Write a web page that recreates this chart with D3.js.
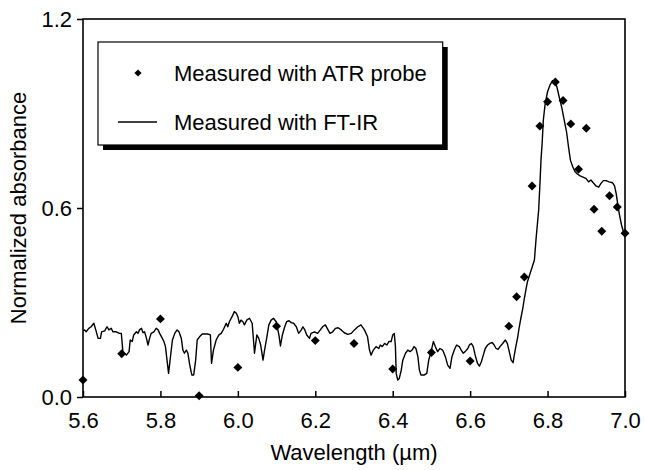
<!DOCTYPE html>
<html>
<head>
<meta charset="utf-8">
<script src="https://cdn.jsdelivr.net/npm/d3@7"></script>
<style>
  body { margin: 0; background: #fff; }
  svg text { font-family: 'Liberation Sans', Arial, sans-serif; fill: #000; }
</style>
</head>
<body>
<div id="chart"></div>
<script>
const width = 645;
const height = 470;
const margin = { top: 19, right: 20, bottom: 73, left: 83 };
const fontSize = 22;

// x axis ticks (wavelength, um) and y axis ticks (normalized absorbance)
const waveTicks = [5.6, 5.8, 6.0, 6.2, 6.4, 6.6, 6.8, 7.0];
const absTicks = [0.0, 0.6, 1.2];

// ATR probe measurements
const atrWave = [5.6, 5.7, 5.8, 5.9, 6.0, 6.1, 6.2, 6.3, 6.4, 6.5, 6.6,
  6.70, 6.72, 6.74, 6.76, 6.78, 6.80, 6.82, 6.84, 6.86, 6.88, 6.90, 6.92, 6.94, 6.96, 6.98, 7.00];
const atrAbs = [0.054, 0.137, 0.248, 0.004, 0.094, 0.225, 0.179, 0.170, 0.089, 0.141, 0.114,
  0.225, 0.318, 0.381, 0.670, 0.860, 0.937, 1.000, 0.941, 0.867, 0.723, 0.853, 0.596, 0.526, 0.639, 0.603, 0.520];

// FT-IR spectrum
const ftirWave = [
  5.600, 5.604, 5.608, 5.615, 5.621, 5.628, 5.633, 5.639, 5.645, 5.648, 5.656, 5.662, 5.667, 5.673, 5.677,
  5.686, 5.694, 5.699, 5.703, 5.712, 5.719, 5.722, 5.727, 5.731, 5.738, 5.742, 5.746, 5.751, 5.755, 5.759,
  5.763, 5.768, 5.772, 5.776, 5.783, 5.789, 5.794, 5.798, 5.805, 5.809, 5.813, 5.817, 5.821, 5.826, 5.831,
  5.837, 5.843, 5.848, 5.854, 5.858, 5.862, 5.867, 5.871, 5.875, 5.881, 5.886, 5.891, 5.895, 5.901, 5.908,
  5.922, 5.929, 5.932, 5.937, 5.944, 5.951, 5.957, 5.963, 5.970, 5.974, 5.978, 5.985, 5.991, 5.996, 6.000,
  6.004, 6.008, 6.013, 6.017, 6.023, 6.030, 6.037, 6.043, 6.049, 6.054, 6.059, 6.065, 6.069, 6.075, 6.080,
  6.086, 6.092, 6.099, 6.106, 6.110, 6.115, 6.121, 6.126, 6.132, 6.138, 6.144, 6.151, 6.157, 6.164, 6.168,
  6.173, 6.178, 6.185, 6.189, 6.198, 6.206, 6.213, 6.219, 6.226, 6.233, 6.238, 6.245, 6.252, 6.259, 6.267,
  6.275, 6.284, 6.293, 6.301, 6.310, 6.318, 6.327, 6.335, 6.340, 6.344, 6.350, 6.357, 6.364, 6.368, 6.373,
  6.379, 6.385, 6.390, 6.396, 6.400, 6.404, 6.407, 6.409, 6.413, 6.417, 6.422, 6.426, 6.433, 6.439, 6.445,
  6.450, 6.455, 6.460, 6.465, 6.469, 6.473, 6.482, 6.488, 6.493, 6.499, 6.505, 6.510, 6.516, 6.522, 6.529,
  6.536, 6.542, 6.548, 6.553, 6.559, 6.565, 6.572, 6.577, 6.582, 6.587, 6.594, 6.598, 6.603, 6.608, 6.613,
  6.619, 6.624, 6.629, 6.634, 6.639, 6.645, 6.651, 6.657, 6.662, 6.667, 6.672, 6.677, 6.684, 6.691, 6.696,
  6.701, 6.706, 6.711, 6.714, 6.718, 6.723, 6.727, 6.731, 6.736, 6.740, 6.744, 6.748, 6.766, 6.770, 6.777,
  6.780, 6.783, 6.786, 6.789, 6.794, 6.800, 6.806, 6.813, 6.819, 6.824, 6.830, 6.837, 6.843, 6.849, 6.854,
  6.859, 6.865, 6.871, 6.877, 6.884, 6.890, 6.899, 6.906, 6.912, 6.918, 6.925, 6.932, 6.938, 6.944, 6.951,
  6.959, 6.968, 6.973, 6.977, 6.981, 6.985, 6.991, 6.997];
const ftirAbs = [
  0.210, 0.213, 0.207, 0.218, 0.223, 0.234, 0.213, 0.186, 0.186, 0.207, 0.210, 0.223, 0.213, 0.218, 0.207,
  0.207, 0.202, 0.202, 0.144, 0.133, 0.144, 0.181, 0.176, 0.197, 0.207, 0.202, 0.213, 0.218, 0.204, 0.207,
  0.191, 0.165, 0.186, 0.202, 0.207, 0.218, 0.213, 0.202, 0.186, 0.176, 0.160, 0.117, 0.075, 0.128, 0.181,
  0.202, 0.213, 0.207, 0.186, 0.149, 0.139, 0.149, 0.139, 0.107, 0.070, 0.070, 0.117, 0.181, 0.191, 0.200,
  0.200, 0.197, 0.107, 0.149, 0.181, 0.197, 0.202, 0.215, 0.234, 0.223, 0.239, 0.255, 0.271, 0.266, 0.255,
  0.234, 0.244, 0.239, 0.229, 0.244, 0.250, 0.234, 0.139, 0.197, 0.186, 0.165, 0.117, 0.149, 0.191, 0.229,
  0.244, 0.250, 0.239, 0.197, 0.162, 0.197, 0.223, 0.239, 0.242, 0.236, 0.234, 0.223, 0.202, 0.213, 0.223,
  0.213, 0.197, 0.186, 0.202, 0.207, 0.202, 0.213, 0.223, 0.229, 0.213, 0.202, 0.207, 0.218, 0.220, 0.213,
  0.204, 0.199, 0.202, 0.213, 0.223, 0.229, 0.213, 0.191, 0.149, 0.133, 0.149, 0.160, 0.154, 0.165, 0.160,
  0.170, 0.165, 0.176, 0.176, 0.197, 0.202, 0.160, 0.075, 0.054, 0.059, 0.085, 0.117, 0.139, 0.149, 0.144,
  0.149, 0.160, 0.154, 0.128, 0.085, 0.070, 0.070, 0.075, 0.117, 0.144, 0.176, 0.160, 0.144, 0.154, 0.149,
  0.128, 0.101, 0.091, 0.128, 0.149, 0.165, 0.160, 0.149, 0.139, 0.144, 0.154, 0.165, 0.170, 0.160, 0.133,
  0.107, 0.098, 0.112, 0.133, 0.154, 0.165, 0.170, 0.173, 0.165, 0.154, 0.151, 0.160, 0.170, 0.181, 0.170,
  0.144, 0.117, 0.109, 0.133, 0.160, 0.191, 0.223, 0.250, 0.281, 0.313, 0.340, 0.366, 0.435, 0.498, 0.594,
  0.668, 0.752, 0.806, 0.879, 0.933, 0.969, 0.990, 1.004, 1.001, 0.985, 0.953, 0.917, 0.879, 0.842, 0.795,
  0.752, 0.731, 0.715, 0.708, 0.702, 0.699, 0.694, 0.683, 0.689, 0.680, 0.670, 0.666, 0.678, 0.687, 0.687,
  0.683, 0.680, 0.670, 0.647, 0.615, 0.583, 0.546, 0.520];

const legendLabels = ['Measured with ATR probe', 'Measured with FT-IR'];

const svg = d3.select('#chart')
  .append('svg')
  .attr('width', width)
  .attr('height', height);

const x = d3.scaleLinear().domain([5.6, 7.0]).range([margin.left, width - margin.right]);
const y = d3.scaleLinear().domain([0, 1.2]).range([height - margin.bottom, margin.top]);

const xAxis = d3.axisBottom(x)
  .tickValues(waveTicks)
  .tickFormat(d3.format('.1f'))
  .tickSizeInner(-6)
  .tickSizeOuter(0)
  .tickPadding(15);

const yAxis = d3.axisLeft(y)
  .tickValues(absTicks)
  .tickFormat(d3.format('.1f'))
  .tickSizeInner(6)
  .tickSizeOuter(0)
  .tickPadding(5);

const gx = svg.append('g')
  .attr('transform', `translate(0, ${height - margin.bottom})`)
  .call(xAxis);

const gy = svg.append('g')
  .attr('transform', `translate(${margin.left}, 0)`)
  .call(yAxis);

[gx, gy].forEach((g) => {
  g.select('.domain').remove();
  g.selectAll('line').attr('stroke', '#000').attr('stroke-width', 1.5);
  g.selectAll('text').style('font-size', `${fontSize}px`).attr('fill', '#000');
});

// frame around the plot
svg.append('rect')
  .attr('x', x(5.6))
  .attr('y', y(1.2))
  .attr('width', x(7.0) - x(5.6))
  .attr('height', y(0) - y(1.2))
  .attr('fill', 'none')
  .attr('stroke', '#000')
  .attr('stroke-width', 1.6);

// axis titles
svg.append('text')
  .attr('x', (x(5.6) + x(7.0)) / 2)
  .attr('y', 460)
  .attr('text-anchor', 'middle')
  .style('font-size', `${fontSize}px`)
  .text('Wavelength (\u00b5m)');

svg.append('text')
  .attr('transform', `translate(26, ${(y(0) + y(1.2)) / 2}) rotate(-90)`)
  .attr('text-anchor', 'middle')
  .style('font-size', `${fontSize}px`)
  .text('Normalized absorbance');

// FT-IR line
const line = d3.line()
  .x(i => x(ftirWave[i]))
  .y(i => y(ftirAbs[i]));

svg.append('path')
  .datum(d3.range(ftirWave.length))
  .attr('d', line)
  .attr('fill', 'none')
  .attr('stroke', '#000')
  .attr('stroke-width', 1.4)
  .attr('stroke-linejoin', 'round');

// ATR diamonds
const diamond = d3.symbol().type(d3.symbolSquare).size(40);

svg.append('g')
  .selectAll('path')
  .data(d3.range(atrWave.length))
  .enter()
  .append('path')
  .attr('d', diamond)
  .attr('transform', i => `translate(${x(atrWave[i])},${y(atrAbs[i])}) rotate(45)`)
  .attr('fill', '#000');

// legend with drop shadow
const legend = svg.append('g');
const legendX = 98;
const legendY = 42;
const textX = 174;

const shadow = legend.append('rect').attr('fill', '#000');
const box = legend.append('rect').attr('fill', '#fff').attr('stroke', '#000').attr('stroke-width', 1.2);

legend.append('path')
  .attr('d', d3.symbol().type(d3.symbolSquare).size(26))
  .attr('transform', 'translate(138,73) rotate(45)')
  .attr('fill', '#000');

legend.append('line')
  .attr('x1', 118)
  .attr('x2', 157)
  .attr('y1', 122)
  .attr('y2', 122)
  .attr('stroke', '#000')
  .attr('stroke-width', 1.4);

const labels = legend.selectAll('text.leg')
  .data(legendLabels)
  .enter()
  .append('text')
  .attr('class', 'leg')
  .attr('x', textX)
  .attr('y', (d, i) => 73 + i * 49)
  .attr('dy', '0.35em')
  .style('font-size', `${fontSize}px`)
  .text(d => d);

const textWidth = d3.max(labels.nodes(), n => n.getComputedTextLength());
const boxW = textX + textWidth + 16 - legendX;
const boxH = 103;

box.attr('x', legendX).attr('y', legendY).attr('width', boxW).attr('height', boxH);
shadow.attr('x', legendX + 5).attr('y', legendY + 5).attr('width', boxW).attr('height', boxH);
</script>
</body>
</html>
